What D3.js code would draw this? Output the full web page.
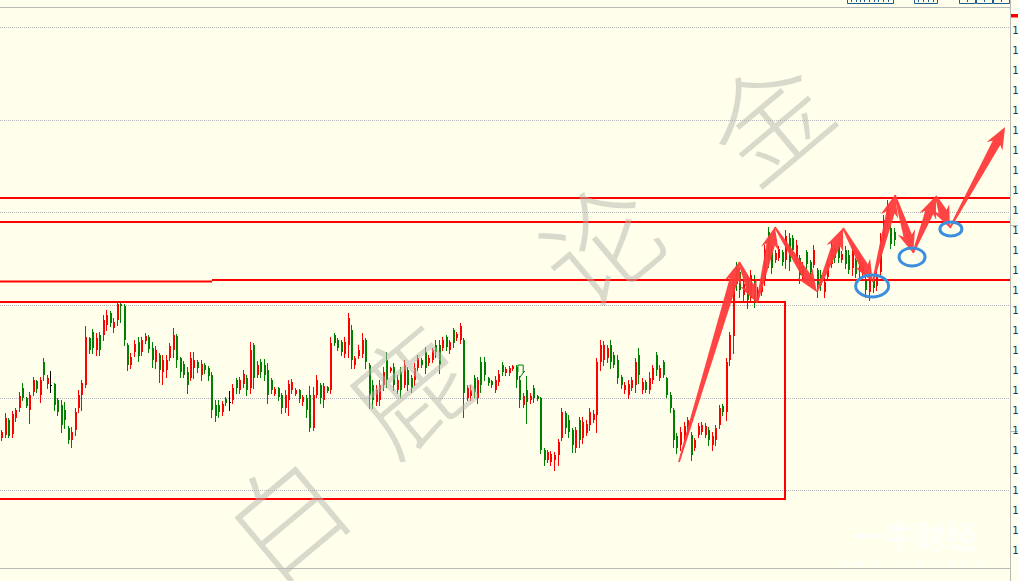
<!DOCTYPE html>
<html><head><meta charset="utf-8">
<script src="https://cdn.jsdelivr.net/npm/d3@7"></script>
<style>html,body{margin:0;padding:0;background:#ffffec;overflow:hidden}svg{display:block}</style>
</head><body><svg id="c" width="1018" height="581"></svg>
<script>
// ---------- DATA ----------
const open = [
1305.2,1305.5,1307.0,1305.6,1307.2,1308.2,1310.2,1309.2,1308.0,1309.8,
1310.9,1309.5,1312.8,1310.6,1310.5,1310.6,1309.0,1308.5,1308.0,1306.2,
1305.0,1306.0,1308.2,1309.5,1310.5,1315.2,1315.8,1314.0,1315.5,1315.5,
1316.5,1317.7,1316.2,1317.0,1318.6,1318.4,1314.5,1312.5,1313.8,1314.8,
1313.8,1314.9,1315.3,1314.2,1312.8,1313.5,1311.8,1312.0,1313.2,1314.0,
1315.4,1313.2,1312.6,1311.8,1311.2,1312.2,1312.8,1311.5,1312.5,1312.2,
1311.5,1308.5,1308.5,1307.8,1309.1,1308.8,1309.0,1311.0,1310.0,1310.6,
1311.2,1310.2,1314.5,1311.5,1312.8,1312.5,1312.0,1311.0,1309.6,1310.2,
1309.5,1308.2,1309.0,1310.0,1309.6,1310.0,1308.8,1309.2,1309.5,1306.2,
1309.5,1310.5,1309.0,1310.3,1310.0,1315.5,1315.0,1314.8,1313.6,1314.5,
1316.0,1312.5,1313.4,1313.6,1315.0,1312.5,1310.5,1308.8,1309.0,1310.5,
1313.0,1311.9,1312.3,1310.0,1311.8,1310.5,1312.0,1311.2,1311.0,1312.2,
1313.0,1313.8,1312.7,1313.0,1314.5,1314.5,1314.2,1315.3,1314.0,1316.0,
1315.2,1315.0,1315.0,1309.2,1309.4,1311.2,1309.2,1312.8,1312.8,1311.2,
1310.9,1310.0,1310.8,1312.5,1311.7,1311.7,1312.1,1312.3,1311.0,1308.5,
1310.0,1309.0,1310.2,1309.4,1309.2,1304.0,1303.0,1302.8,1303.0,1303.5,
1305.2,1307.7,1307.0,1306.0,1304.2,1307.0,1305.2,1305.7,1306.5,1307.0,
1307.5,1312.8,1313.0,1313.2,1314.5,1313.5,1313.0,1311.3,1310.0,1309.5,
1310.2,1310.5,1313.5,1310.0,1310.8,1310.0,1311.0,1313.5,1311.2,1312.8,
1311.2,1309.5,1308.0,1305.4,1304.5,1305.4,1305.8,1305.5,1304.2,1305.5,
1305.8,1305.5,1306.0,1304.5,1305.0,1306.5,1308.4,1307.8,1313.0,1315.4,
1322.2,1321.8,1319.5,1321.0,1319.2,1321.0,1319.0,1319.8,1321.0,1325.8,
1324.0,1323.0,1323.2,1323.8,1323.0,1325.2,1325.2,1323.2,1323.2,1321.2,
1323.8,1322.8,1322.5,1322.0,1321.5,1319.8,1321.3,1322.6,1324.2,1324.4,
1323.0,1324.0,1323.5,1322.2,1323.0,1321.8,1321.6,1321.1,1319.8,1321.1,
1320.4,1321.8,1325.2,1326.8,1326.2,1325.8];
const high = [
1306.0,1307.7,1307.2,1307.9,1308.2,1309.8,1310.7,1309.3,1309.8,1311.3,
1311.0,1311.3,1313.2,1311.5,1311.9,1310.7,1309.2,1309.0,1308.8,1306.4,
1306.3,1308.2,1310.0,1311.0,1316.4,1315.3,1316.1,1315.7,1315.8,1317.5,
1318.0,1317.9,1317.2,1318.9,1318.8,1318.6,1314.7,1313.7,1315.0,1315.3,
1315.3,1315.7,1315.5,1314.8,1314.4,1313.7,1313.5,1313.5,1314.7,1316.2,
1315.6,1313.3,1312.9,1312.3,1313.8,1313.8,1313.0,1313.0,1312.7,1312.4,
1311.8,1309.0,1309.0,1308.9,1309.3,1309.9,1310.6,1311.2,1311.3,1312.0,
1311.5,1314.8,1314.7,1312.9,1313.1,1313.1,1312.7,1311.2,1310.3,1310.3,
1309.7,1310.0,1311.0,1311.1,1310.2,1310.1,1309.5,1309.5,1310.4,1310.3,
1311.5,1310.7,1310.7,1310.4,1315.3,1315.7,1315.2,1315.0,1315.3,1317.7,
1316.5,1313.4,1314.5,1315.7,1315.2,1312.7,1311.0,1310.5,1311.0,1312.3,
1313.8,1312.3,1312.7,1311.5,1312.3,1313.0,1312.3,1311.5,1312.7,1313.5,
1313.2,1314.3,1313.5,1314.2,1315.0,1315.0,1315.3,1315.5,1315.0,1316.2,
1315.8,1316.7,1315.2,1310.5,1310.5,1311.5,1311.3,1313.3,1313.3,1311.3,
1311.0,1311.4,1312.0,1312.8,1312.3,1312.4,1312.5,1312.5,1311.4,1309.7,
1311.4,1309.7,1310.5,1309.5,1309.3,1304.2,1304.0,1303.9,1303.8,1305.1,
1308.2,1307.9,1307.5,1306.2,1306.3,1307.3,1307.3,1307.0,1308.2,1308.0,
1313.2,1315.0,1314.9,1314.5,1315.0,1313.8,1313.5,1311.5,1310.8,1311.0,
1311.3,1313.2,1314.2,1311.2,1311.0,1311.8,1312.5,1313.8,1312.5,1313.0,
1311.3,1309.8,1308.2,1305.7,1306.3,1306.8,1307.3,1305.8,1305.2,1306.7,
1306.8,1306.7,1306.3,1305.8,1306.5,1308.5,1308.6,1313.2,1315.8,1321.0,
1322.8,1322.2,1321.0,1321.5,1322.0,1321.5,1320.3,1321.2,1324.5,1326.3,
1324.5,1324.0,1324.4,1324.0,1326.0,1325.7,1325.5,1325.0,1323.5,1322.8,
1324.0,1323.0,1324.5,1322.2,1322.0,1321.2,1323.0,1324.7,1324.5,1324.7,
1323.9,1324.4,1324.0,1324.5,1323.2,1323.7,1322.8,1321.3,1321.5,1321.3,
1322.0,1325.7,1327.5,1329.0,1326.5,1326.2];
const low = [
1305.0,1305.3,1305.3,1305.3,1306.9,1307.9,1309.0,1308.3,1306.7,1309.5,
1309.8,1308.8,1311.0,1310.2,1309.8,1308.0,1307.5,1305.8,1306.2,1304.7,
1304.3,1305.5,1307.8,1308.0,1310.3,1313.7,1313.7,1313.5,1313.5,1315.0,
1316.0,1316.4,1315.8,1316.5,1316.8,1314.5,1312.0,1312.2,1313.4,1312.9,
1313.5,1314.7,1313.8,1312.3,1312.2,1310.8,1310.6,1311.3,1313.0,1313.3,
1312.3,1311.3,1311.3,1309.7,1311.0,1311.2,1311.8,1311.0,1311.7,1311.0,
1307.3,1306.9,1307.3,1307.5,1308.5,1308.0,1308.7,1309.7,1309.7,1310.3,
1309.5,1309.7,1310.2,1311.3,1311.3,1311.0,1308.7,1309.7,1309.5,1309.0,
1307.7,1307.8,1307.5,1309.7,1309.5,1308.8,1308.5,1307.3,1305.9,1306.0,
1309.3,1308.7,1308.3,1309.8,1309.7,1314.5,1314.0,1313.5,1313.3,1313.3,
1312.2,1312.2,1313.2,1313.3,1312.2,1308.2,1308.2,1308.5,1308.5,1310.0,
1310.3,1311.8,1310.0,1309.7,1309.3,1310.3,1310.0,1309.8,1310.5,1312.0,
1312.3,1311.7,1312.5,1312.8,1313.3,1311.7,1314.0,1314.0,1313.7,1314.3,
1315.0,1314.7,1307.3,1309.0,1309.0,1309.3,1308.7,1309.8,1311.0,1310.5,
1310.3,1309.8,1310.5,1311.5,1311.5,1311.5,1312.0,1310.3,1308.3,1308.3,
1306.7,1308.7,1308.8,1309.0,1303.7,1302.5,1302.8,1302.5,1302.0,1302.5,
1305.0,1305.7,1305.3,1303.8,1303.8,1304.3,1304.7,1305.5,1306.0,1306.8,
1305.8,1312.0,1312.5,1312.8,1312.2,1312.3,1310.7,1310.2,1309.7,1309.2,
1310.0,1309.8,1310.7,1309.7,1309.8,1309.7,1310.7,1311.5,1311.0,1311.3,
1309.3,1307.8,1304.3,1303.7,1304.0,1305.0,1305.5,1303.0,1304.0,1305.3,
1305.6,1305.3,1304.5,1304.0,1304.5,1306.2,1307.5,1307.0,1312.5,1313.7,
1320.0,1319.3,1319.0,1318.2,1318.8,1318.3,1318.8,1319.5,1320.5,1322.3,
1321.7,1322.8,1323.0,1322.5,1322.2,1322.0,1323.7,1322.7,1320.7,1321.0,
1322.2,1321.3,1322.3,1319.3,1320.0,1319.3,1321.0,1322.3,1322.8,1322.8,
1322.8,1322.2,1321.7,1321.5,1321.3,1321.3,1321.3,1319.3,1319.0,1319.8,
1320.0,1321.5,1325.0,1326.3,1324.2,1324.5];
const close = [
1305.8,1307.2,1305.4,1307.6,1308.0,1309.4,1309.2,1308.4,1309.5,1311.0,
1310.1,1311.0,1311.5,1311.2,1310.5,1308.5,1307.8,1306.5,1307.0,1305.0,
1305.8,1307.8,1309.5,1310.7,1315.3,1314.0,1314.2,1315.2,1314.0,1317.0,
1317.5,1316.7,1316.8,1318.6,1318.4,1315.0,1312.5,1313.3,1314.6,1313.4,
1315.0,1315.4,1314.1,1313.0,1314.0,1312.0,1313.0,1313.0,1314.4,1315.5,
1313.0,1311.8,1311.5,1310.5,1313.2,1313.0,1312.2,1312.6,1312.0,1311.4,
1308.0,1307.4,1307.8,1308.6,1308.7,1308.8,1310.2,1310.2,1311.0,1311.6,
1310.0,1314.0,1311.2,1312.5,1311.8,1311.5,1309.5,1310.0,1310.1,1309.3,
1308.2,1309.5,1310.6,1310.8,1310.0,1309.1,1309.3,1308.0,1306.2,1309.5,
1311.0,1309.2,1310.4,1309.9,1314.7,1314.7,1314.2,1313.8,1314.8,1317.2,
1313.0,1313.2,1314.0,1315.0,1312.8,1309.5,1309.0,1310.0,1310.5,1311.8,
1311.0,1312.2,1310.5,1311.0,1310.0,1312.5,1310.5,1310.2,1312.2,1313.2,
1312.5,1312.2,1313.2,1314.0,1313.8,1312.5,1315.0,1314.3,1314.8,1314.7,
1315.6,1316.4,1309.7,1310.2,1310.0,1309.8,1311.0,1310.5,1311.5,1310.7,
1310.5,1311.0,1311.6,1311.8,1312.1,1312.2,1312.4,1311.0,1309.0,1309.4,
1308.8,1309.4,1309.2,1309.1,1304.0,1303.0,1303.8,1303.6,1303.5,1304.8,
1307.8,1306.2,1305.8,1304.5,1306.0,1305.0,1306.8,1306.6,1307.8,1307.6,
1312.8,1314.5,1314.5,1314.2,1312.8,1312.5,1311.2,1310.5,1310.5,1310.6,
1311.0,1312.8,1311.5,1310.8,1310.0,1311.2,1312.2,1312.0,1312.2,1311.5,
1309.5,1308.2,1305.0,1304.2,1305.8,1306.4,1307.0,1303.5,1305.0,1306.4,
1306.5,1306.4,1305.0,1305.4,1306.2,1308.2,1307.8,1312.8,1315.5,1320.5,
1320.6,1320.0,1320.6,1319.0,1321.5,1319.0,1320.0,1320.8,1324.0,1323.0,
1322.2,1323.7,1324.1,1322.8,1325.4,1322.8,1324.0,1324.5,1321.5,1322.4,
1322.6,1321.8,1324.0,1320.5,1320.5,1320.8,1322.6,1324.2,1323.2,1323.2,
1323.6,1322.6,1322.0,1324.0,1321.6,1323.2,1322.4,1320.0,1321.0,1320.2,
1321.6,1325.2,1327.0,1328.5,1324.6,1325.0];

const gridLevels = [1300.0, 1309.25, 1318.5, 1327.75, 1337.0, 1346.25];
const axisTicks = [1346,1344,1342,1340,1338,1336,1334,1332,1330,1328,1326,1324,1322,1320,1318,1316,1314,1312,1310,1308,1306,1304,1302,1300,1298,1296,1294];
// horizontal levels: [price, fromIndex, toIndex]
const levels = [[1329.2, 0, 288], [1326.8, 0, 288], [1321.0, 60.3, 288], [1320.85, 0, 60.3]];
// rectangle (range box): [fromIndex, toIndex, topPrice, bottomPrice]
const rangeBox = [0, 224, 1318.8, 1299.1];
// zig-zag arrow path points [index, price]
const arrowPoints = [[193.7,1302.8],[210.9,1322.8],[216.0,1318.7],[221.1,1326.3],[233.1,1319.8],[240.6,1326.2],[249.1,1320.8],[255.4,1329.5],[260.6,1323.7],[267.1,1329.4],[271.1,1326.2],[286.9,1336.3]];
// circled pullbacks [index, price]
const circles = [[248.9,1320.4],[260.3,1323.3],[271.4,1326.1]];
const watermark = ["白","鹿","论","金"];

// ---------- DRAW ----------
const W = 1018, H = 581;
const svg = d3.select("#c");
svg.append("rect").attr("width", W).attr("height", H).attr("fill", "#ffffec");

const x = d3.scaleLinear().domain([0, 288]).range([1, 1009]);
const y = d3.scaleLinear().domain([1292.2, 1348.3]).range([568, 7]);

// grid
svg.append("g").selectAll("line").data(gridLevels).join("line")
  .attr("x1", 0).attr("x2", 1010)
  .attr("y1", d => Math.round(y(d)) + 0.5).attr("y2", d => Math.round(y(d)) + 0.5)
  .attr("stroke", "#b4b4bc").attr("stroke-width", 1).attr("stroke-dasharray", "1,1");

// frame lines
svg.append("line").attr("x1", 0).attr("x2", 1010.5).attr("y1", 7.5).attr("y2", 7.5).attr("stroke", "#b9b9b9");
svg.append("line").attr("x1", 0).attr("x2", 1010.5).attr("y1", 568.5).attr("y2", 568.5).attr("stroke", "#b9b9b9");
svg.append("line").attr("x1", 1010.5).attr("x2", 1010.5).attr("y1", 0).attr("y2", H).attr("stroke", "#b9b9b9");
[225.5, 431.5].forEach(v => svg.append("line").attr("x1", 1010).attr("x2", W).attr("y1", v).attr("y2", v).attr("stroke", "#b9b9b9"));
svg.append("rect").attr("x", 1011).attr("y", 14).attr("width", 7).attr("height", 3.5).attr("fill", "#ff0000");

// right axis (labels cut by the window edge, as in the reference)
const axis = d3.axisRight(y).tickValues(axisTicks).tickSize(0).tickPadding(1).tickFormat(d3.format(".2f"));
const ag = svg.append("g").attr("transform", "translate(1011,0)").call(axis);
ag.select(".domain").remove();
ag.selectAll("text").attr("fill", "#1c3c74").style("font-family", "'DejaVu Sans Mono', monospace").style("font-size", "11px");

// top tabs
const tabG = svg.append("g").attr("stroke", "#1f5d8e").attr("fill", "none").attr("stroke-width", 1);
[[847,893],[914,937],[959,975],[976,992],[993,1009]].forEach(([a,b]) => {
  tabG.append("path").attr("d", `M${a+0.5},-2V3.5H${b+0.5}V-2`);
});
const stubs = [851,856,860,864,869,874,878,883,888,918,923,928,933,967,984,1001];
tabG.selectAll("line.st").data(stubs).join("line").attr("class","st")
  .attr("x1", d => d + 0.5).attr("x2", d => d + 0.5).attr("y1", -2).attr("y2", 2);

// candles
const idx = d3.range(open.length);
const col = i => close[i] > open[i] ? "#ff0000" : (close[i] < open[i] ? "#008000" : "#000000");
const cg = svg.append("g");
cg.selectAll("line").data(idx).join("line")
  .attr("x1", i => Math.round(x(i)) + 0.5).attr("x2", i => Math.round(x(i)) + 0.5)
  .attr("y1", i => Math.round(y(high[i]))).attr("y2", i => Math.round(y(low[i])) + 1)
  .attr("stroke", col).attr("stroke-width", 1);
cg.selectAll("rect").data(idx).join("rect")
  .attr("x", i => Math.round(x(i)))
  .attr("width", 2)
  .attr("y", i => Math.round(y(Math.max(open[i], close[i]))))
  .attr("height", i => Math.max(1, Math.round(Math.abs(y(open[i]) - y(close[i])))))
  .attr("fill", col);

// small green marker object
svg.append("path")
  .attr("d", `M${x(147.7)},${y(1311.8)}V${y(1312.5)}H${x(149.2)}V${y(1311.7)}L${x(149.6)},${y(1311.9)}L${x(148.1)},${y(1311.2)}`)
  .attr("fill", "none").attr("stroke", "#008000").attr("stroke-width", 1);

// levels
svg.append("g").selectAll("line").data(levels).join("line")
  .attr("x1", d => d[1] === 0 ? 0 : x(d[1])).attr("x2", d => d[2] >= 288 ? 1010 : x(d[2]))
  .attr("y1", d => y(d[0])).attr("y2", d => y(d[0]))
  .attr("stroke", "#ff0000").attr("stroke-width", 2);

// range box
svg.append("path")
  .attr("d", `M0,${y(rangeBox[2])}H${x(rangeBox[1])}V${y(rangeBox[3])}H0`)
  .attr("fill", "none").attr("stroke", "#ff0000").attr("stroke-width", 2);

// watermark
const wmPos = [[282,512],[405,385],[597,240],[765,115]];
svg.append("g").selectAll("text").data(watermark).join("text")
  .attr("transform", (d,i) => `translate(${wmPos[i][0]},${wmPos[i][1]}) rotate(-40)`)
  .attr("text-anchor", "middle").attr("dominant-baseline", "central")
  .style("font-family", "'Noto Sans CJK SC', sans-serif").style("font-weight", 300)
  .style("font-size", "116px")
  .attr("fill", "#b5b5ac").attr("fill-opacity", 0.5)
  .text(d => d);

// faint bottom-right logo
svg.append("text").attr("x", 915).attr("y", 548).attr("text-anchor", "middle")
  .style("font-family", "'Noto Sans CJK SC', sans-serif").style("font-weight", 700).style("font-size", "31px")
  .attr("fill", "#ffffff").attr("fill-opacity", 0.75).text("一牛财经");
svg.append("text").attr("x", 915).attr("y", 567).attr("text-anchor", "middle")
  .style("font-family", "Liberation Sans, sans-serif").style("font-weight", 700).style("font-size", "9px")
  .style("letter-spacing", "6px")
  .attr("fill", "#ffffff").attr("fill-opacity", 0.75).text("WWW.YNCJ.COM");

// arrows
function arrowPoly(ax, ay, bx, by) {
  const dx = bx - ax, dy = by - ay, L = Math.hypot(dx, dy);
  const ux = dx / L, uy = dy / L, nx = -uy, ny = ux;
  const hl = 18, hw = 9, nw = 4.3, tw = 0.9;
  const kx = bx - ux * hl, ky = by - uy * hl;
  const rx = bx - ux * (hl + 4), ry = by - uy * (hl + 4);
  const p = [
    [ax + nx * tw, ay + ny * tw], [kx + nx * nw, ky + ny * nw], [rx + nx * hw, ry + ny * hw],
    [bx, by], [rx - nx * hw, ry - ny * hw], [kx - nx * nw, ky - ny * nw], [ax - nx * tw, ay - ny * tw]
  ];
  return "M" + p.map(q => q[0].toFixed(1) + "," + q[1].toFixed(1)).join("L") + "Z";
}
const segs = d3.pairs(arrowPoints);
svg.append("g").selectAll("path").data(segs).join("path")
  .attr("d", ([a, b]) => arrowPoly(x(a[0]), y(a[1]), x(b[0]), y(b[1])))
  .attr("fill", "#ff3a3a").attr("fill-opacity", 0.95);

// circles
const radii = [[16.5, 11], [13, 9], [11, 7]];
svg.append("g").selectAll("ellipse").data(circles).join("ellipse")
  .attr("cx", d => x(d[0])).attr("cy", d => y(d[1]))
  .attr("rx", (d,i) => radii[i][0]).attr("ry", (d,i) => radii[i][1])
  .attr("fill", "none").attr("stroke", "#3b8fdc").attr("stroke-width", 3);
</script>
</body></html>
